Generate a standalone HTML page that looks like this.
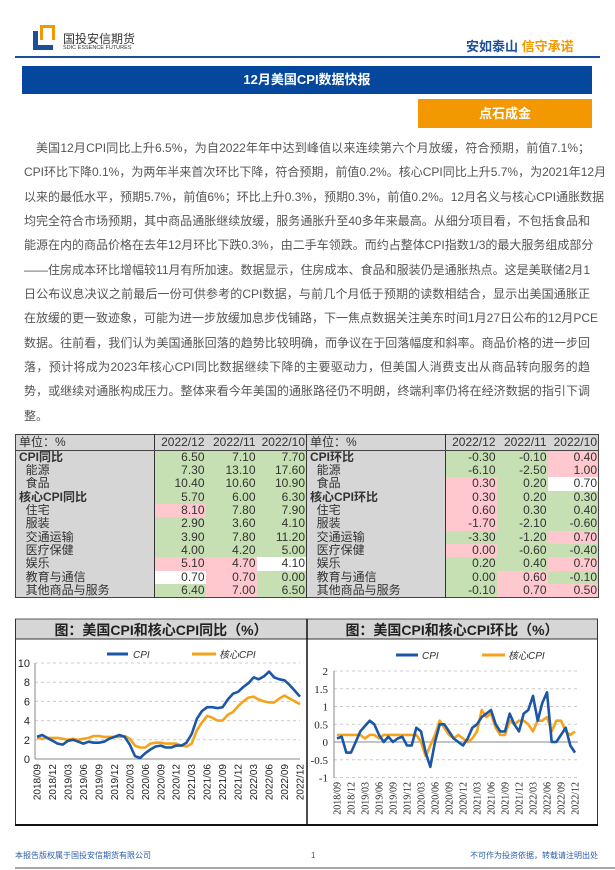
<!DOCTYPE html>
<html><head><meta charset="utf-8">
<style>
*{margin:0;padding:0;box-sizing:border-box}
body{width:615px;height:870px;background:#fff;position:relative;overflow:hidden;font-family:"Liberation Sans","Noto Sans CJK SC",sans-serif;color:#222}
.a{position:absolute}
.ln{position:absolute;left:24px;width:566px;font-size:12px;line-height:14px;text-align:justify;text-align-last:justify;white-space:nowrap;font-family:"Liberation Sans","Noto Sans CJK SC",sans-serif;color:#555}
table{position:absolute;left:15px;top:434px;width:583px;border-collapse:collapse;table-layout:fixed;font-size:12px;color:#333}
td{height:13.33px;line-height:13px;padding:0 1px;text-align:right;white-space:nowrap;overflow:hidden}
td.l{text-align:left;background:#d6d6d6;padding-left:3px}
td.b{font-weight:bold}
tr.h td{height:16px;background:#d6d6d6;border-bottom:1px solid #444}
.g{background:#c6e0b4}.p{background:#ffc7ce}.w{background:#fff}
.sep{border-left:1px solid #333}
</style></head><body>
<div class="a" style="left:33px;top:31px;width:20px;height:19px;border:5px solid #1b4f9c;border-top:none;border-right:none"></div>
<div class="a" style="left:40px;top:25px;width:15px;height:15px;background:#f39800"></div>
<div class="a" style="left:43px;top:28px;width:9px;height:12px;background:#fff"></div>
<div class="a" style="left:63px;top:30px;font-size:12px;color:#333">国投安信期货</div>
<div class="a" style="left:63px;top:45px;font-size:5.5px;color:#333">SDIC ESSENCE FUTURES</div>
<div class="a" style="left:466px;top:36px;font-size:13px;font-weight:bold;color:#1b4f9c">安如泰山 <span style="color:#f39800">信守承诺</span></div>
<div class="a" style="left:15px;top:56px;width:585px;height:2px;background:#1b4f9c"></div>
<div class="a" style="left:22px;top:66px;width:570px;height:28px;background:#04479c;color:#fff;font-weight:bold;font-size:13px;text-align:center;line-height:28px">12月美国CPI数据快报</div>
<div class="a" style="left:418px;top:99px;width:174px;height:29px;background:#f39800;color:#fff;font-weight:bold;font-size:13px;text-align:center;line-height:29px">点石成金</div>
<div class="ln" style="top:141px;left:36px;width:554px">美国12月CPI同比上升6.5%，为自2022年年中达到峰值以来连续第六个月放缓，符合预期，前值7.1%；</div>
<div class="ln" style="top:165px">CPI环比下降0.1%，为两年半来首次环比下降，符合预期，前值0.2%。核心CPI同比上升5.7%，为2021年12月</div>
<div class="ln" style="top:190px">以来的最低水平，预期5.7%，前值6%；环比上升0.3%，预期0.3%，前值0.2%。12月名义与核心CPI通胀数据</div>
<div class="ln" style="top:214px">均完全符合市场预期，其中商品通胀继续放缓，服务通胀升至40多年来最高。从细分项目看，不包括食品和</div>
<div class="ln" style="top:238px">能源在内的商品价格在去年12月环比下跌0.3%，由二手车领跌。而约占整体CPI指数1/3的最大服务组成部分</div>
<div class="ln" style="top:263px">——住房成本环比增幅较11月有所加速。数据显示，住房成本、食品和服装仍是通胀热点。这是美联储2月1</div>
<div class="ln" style="top:287px">日公布议息决议之前最后一份可供参考的CPI数据，与前几个月低于预期的读数相结合，显示出美国通胀正</div>
<div class="ln" style="top:311px">在放缓的更一致迹象，可能为进一步放缓加息步伐铺路，下一焦点数据关注美东时间1月27日公布的12月PCE</div>
<div class="ln" style="top:336px">数据。往前看，我们认为美国通胀回落的趋势比较明确，而争议在于回落幅度和斜率。商品价格的进一步回</div>
<div class="ln" style="top:360px">落，预计将成为2023年核心CPI同比数据继续下降的主要驱动力，但美国人消费支出从商品转向服务的趋</div>
<div class="ln" style="top:384px">势，或继续对通胀构成压力。整体来看今年美国的通胀路径仍不明朗，终端利率仍将在经济数据的指引下调</div>
<div class="ln" style="top:409px;text-align-last:left">整。</div>
<table style="border:1px solid #444">
<colgroup><col style="width:139px"><col style="width:51px"><col style="width:51px"><col style="width:50px"><col style="width:139px"><col style="width:51px"><col style="width:51px"><col style="width:51px"></colgroup>
<tr class="h"><td class="l">单位：%</td><td class="sep">2022/12</td><td>2022/11</td><td>2022/10</td><td class="l sep">单位：%</td><td class="sep">2022/12</td><td>2022/11</td><td>2022/10</td></tr>
<tr><td class="l b">CPI同比</td><td class="g sep">6.50</td><td class="g">7.10</td><td class="g">7.70</td><td class="l b sep">CPI环比</td><td class="g sep">-0.30</td><td class="g">-0.10</td><td class="p">0.40</td></tr>
<tr><td class="l">&nbsp;&nbsp;能源</td><td class="g sep">7.30</td><td class="g">13.10</td><td class="g">17.60</td><td class="l sep">&nbsp;&nbsp;能源</td><td class="g sep">-6.10</td><td class="g">-2.50</td><td class="p">1.00</td></tr>
<tr><td class="l">&nbsp;&nbsp;食品</td><td class="g sep">10.40</td><td class="g">10.60</td><td class="g">10.90</td><td class="l sep">&nbsp;&nbsp;食品</td><td class="p sep">0.30</td><td class="g">0.20</td><td class="w">0.70</td></tr>
<tr><td class="l b">核心CPI同比</td><td class="g sep">5.70</td><td class="g">6.00</td><td class="g">6.30</td><td class="l b sep">核心CPI环比</td><td class="p sep">0.30</td><td class="g">0.20</td><td class="g">0.30</td></tr>
<tr><td class="l">&nbsp;&nbsp;住宅</td><td class="p sep">8.10</td><td class="g">7.80</td><td class="g">7.90</td><td class="l sep">&nbsp;&nbsp;住宅</td><td class="p sep">0.60</td><td class="g">0.30</td><td class="g">0.40</td></tr>
<tr><td class="l">&nbsp;&nbsp;服装</td><td class="g sep">2.90</td><td class="g">3.60</td><td class="g">4.10</td><td class="l sep">&nbsp;&nbsp;服装</td><td class="p sep">-1.70</td><td class="g">-2.10</td><td class="g">-0.60</td></tr>
<tr><td class="l">&nbsp;&nbsp;交通运输</td><td class="g sep">3.90</td><td class="g">7.80</td><td class="g">11.20</td><td class="l sep">&nbsp;&nbsp;交通运输</td><td class="g sep">-3.30</td><td class="g">-1.20</td><td class="p">0.70</td></tr>
<tr><td class="l">&nbsp;&nbsp;医疗保健</td><td class="g sep">4.00</td><td class="g">4.20</td><td class="g">5.00</td><td class="l sep">&nbsp;&nbsp;医疗保健</td><td class="p sep">0.00</td><td class="g">-0.60</td><td class="g">-0.40</td></tr>
<tr><td class="l">&nbsp;&nbsp;娱乐</td><td class="p sep">5.10</td><td class="p">4.70</td><td class="w">4.10</td><td class="l sep">&nbsp;&nbsp;娱乐</td><td class="g sep">0.20</td><td class="g">0.40</td><td class="p">0.70</td></tr>
<tr><td class="l">&nbsp;&nbsp;教育与通信</td><td class="w sep">0.70</td><td class="p">0.70</td><td class="g">0.00</td><td class="l sep">&nbsp;&nbsp;教育与通信</td><td class="g sep">0.00</td><td class="p">0.60</td><td class="g">-0.10</td></tr>
<tr><td class="l">&nbsp;&nbsp;其他商品与服务</td><td class="g sep">6.40</td><td class="p">7.00</td><td class="g">6.50</td><td class="l sep">&nbsp;&nbsp;其他商品与服务</td><td class="g sep">-0.10</td><td class="p">0.70</td><td class="p">0.50</td></tr>
</table>
<svg class="a" style="left:0;top:0" width="615" height="870" id="s">
<rect x="15" y="619" width="583" height="20" fill="#d6d6d6"/>
<line x1="15" y1="619" x2="598" y2="619" stroke="#555" stroke-width="1"/>
<line x1="15" y1="639" x2="598" y2="639" stroke="#333" stroke-width="1"/>
<line x1="15.5" y1="619" x2="15.5" y2="826" stroke="#333"/>
<line x1="307" y1="619" x2="307" y2="826" stroke="#111" stroke-width="1.5"/>
<line x1="597.5" y1="619" x2="597.5" y2="826" stroke="#333"/>
<line x1="15" y1="825" x2="598" y2="825" stroke="#111" stroke-width="2"/>
<text x="161" y="635" text-anchor="middle" font-size="14" font-weight="bold" fill="#222" font-family="Liberation Sans,Noto Sans CJK SC,sans-serif">图：美国CPI和核心CPI同比（%）</text>
<text x="452" y="635" text-anchor="middle" font-size="14" font-weight="bold" fill="#222" font-family="Liberation Sans,Noto Sans CJK SC,sans-serif">图：美国CPI和核心CPI环比（%）</text>
<g id="g"></g>
<line x1="15" y1="868" x2="615" y2="868" stroke="#888" stroke-width="1.5"/>
<text x="15" y="858" font-size="8" fill="#2a5caa" font-family="Liberation Sans,Noto Sans CJK SC,sans-serif">本报告版权属于国投安信期货有限公司</text>
<text x="311" y="858" font-size="8" fill="#2a5caa" font-family="Liberation Sans,sans-serif">1</text>
<text x="598" y="858" text-anchor="end" font-size="8" fill="#2a5caa" font-family="Liberation Sans,Noto Sans CJK SC,sans-serif">不可作为投资依据，转载请注明出处</text>
</svg>
<script>
var cpi=[2.3,2.5,2.2,1.9,1.6,1.5,1.9,2.0,1.8,1.6,1.8,1.7,1.7,1.8,2.1,2.3,2.5,2.3,1.5,0.3,0.1,0.6,1.0,1.3,1.4,1.2,1.2,1.4,1.4,1.7,2.6,4.2,5.0,5.4,5.4,5.3,5.4,6.2,6.8,7.0,7.5,7.9,8.5,8.3,8.6,9.1,8.5,8.3,8.2,7.7,7.1,6.5];
var core=[2.2,2.1,2.2,2.2,2.2,2.1,2.0,2.1,2.0,2.1,2.2,2.4,2.4,2.3,2.3,2.3,2.3,2.4,2.1,1.4,1.2,1.2,1.6,1.7,1.7,1.6,1.6,1.6,1.4,1.3,1.6,3.0,3.8,4.5,4.3,4.0,4.0,4.6,4.9,5.5,6.0,6.4,6.5,6.2,6.0,5.9,5.9,6.3,6.6,6.3,6.0,5.7];
var cm=[0.1,0.15,-0.3,-0.3,0.0,0.3,0.45,0.6,0.5,0.2,0.0,0.15,0.0,0.1,0.15,-0.1,-0.1,0.4,0.3,-0.3,-0.7,0.0,0.5,0.5,0.3,0.1,0.0,-0.1,0.1,0.4,0.5,0.7,0.8,0.9,0.5,0.3,0.3,0.8,0.5,0.3,0.8,0.9,1.3,0.6,1.1,1.4,0.0,0.0,0.2,0.4,-0.1,-0.3];
var km=[0.2,0.2,0.2,0.2,0.2,0.2,0.1,0.2,0.2,0.1,0.2,0.2,0.2,0.2,0.2,0.2,0.2,0.2,0.0,-0.4,-0.1,0.2,0.6,0.4,0.2,0.1,0.2,0.1,0.0,0.1,0.3,0.9,0.7,0.8,0.4,0.2,0.2,0.6,0.5,0.6,0.6,0.5,0.3,0.6,0.6,0.7,0.3,0.6,0.6,0.3,0.2,0.3];
var h='';
function pl(d,x0,x1,y0,k,c){var p=d.map(function(v,i){return (x0+i*(x1-x0)/51).toFixed(1)+','+(y0-v*k).toFixed(1)}).join(' ');return '<polyline points="'+p+'" fill="none" stroke="'+c+'" stroke-width="2.6" stroke-linejoin="round"/>';}
for(var v=2;v<=10;v+=2){var y=759-v*9.6;h+='<line x1="35" x2="300" y1="'+y+'" y2="'+y+'" stroke="#ccc" stroke-dasharray="3,3"/>';}
for(var v=0;v<=10;v+=2){h+='<text x="30" y="'+(759-v*9.6+4)+'" text-anchor="end" font-size="11" fill="#222" font-family="Liberation Sans,sans-serif">'+v+'</text>';}
h+='<line x1="35" x2="35" y1="663" y2="759" stroke="#888"/><line x1="35" x2="300" y1="759" y2="759" stroke="#888"/>';
var labs=[];for(var i=0;i<52;i+=3){var yy=2018+Math.floor((8+i)/12),mm=(8+i)%12+1;labs.push([i,yy+'/'+(mm<10?'0':'')+mm]);}
labs.forEach(function(l){var x=37+l[0]*263/51+3.5;h+='<text transform="translate('+x+',764) rotate(-90)" text-anchor="end" font-size="10" fill="#222" font-family="Liberation Sans,sans-serif">'+l[1]+'</text>';});
h+=pl(core,37,300,759,9.6,'#f5a31a')+pl(cpi,37,300,759,9.6,'#1c56a6');
h+='<line x1="107" x2="128" y1="654" y2="654" stroke="#1c56a6" stroke-width="3"/><text x="133" y="658" font-size="10" font-style="italic" fill="#333" font-family="Liberation Sans,sans-serif">CPI</text>';
h+='<line x1="192" x2="216" y1="654" y2="654" stroke="#f5a31a" stroke-width="3"/><text x="219" y="658" font-size="10" font-style="italic" fill="#333" font-family="Liberation Sans,Noto Sans CJK SC,sans-serif">核心CPI</text>';
for(var v=-1;v<=2;v+=0.5){var y=742-v*35.5;if(v!=0)h+='<line x1="334" x2="578" y1="'+y+'" y2="'+y+'" stroke="#ccc" stroke-dasharray="3,3"/>';h+='<text x="328" y="'+(y+4)+'" text-anchor="end" font-size="11" fill="#222" font-family="Liberation Serif,serif">'+v+'</text>';}
h+='<line x1="334" x2="334" y1="671" y2="778" stroke="#888"/><line x1="334" x2="578" y1="742" y2="742" stroke="#888"/>';
labs.forEach(function(l){var x=337+l[0]*238/51+3.5;h+='<text transform="translate('+x+',782) rotate(-90)" text-anchor="end" font-size="10" fill="#222" font-family="Liberation Serif,serif">'+l[1]+'</text>';});
h+=pl(km,337,575,742,35.5,'#f5a31a')+pl(cm,337,575,742,35.5,'#1c56a6');
h+='<line x1="396" x2="418" y1="655" y2="655" stroke="#1c56a6" stroke-width="3"/><text x="422" y="659" font-size="10" font-style="italic" fill="#333" font-family="Liberation Sans,sans-serif">CPI</text>';
h+='<line x1="482" x2="505" y1="655" y2="655" stroke="#f5a31a" stroke-width="3"/><text x="508" y="659" font-size="10" font-style="italic" fill="#333" font-family="Liberation Sans,Noto Sans CJK SC,sans-serif">核心CPI</text>';
document.getElementById('g').innerHTML=h;
</script>
</body></html>
